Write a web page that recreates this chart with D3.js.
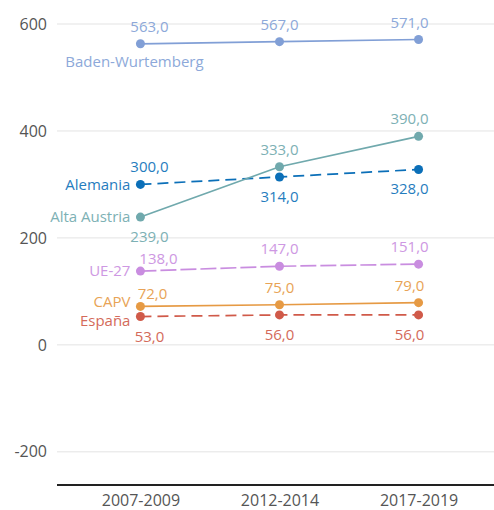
<!DOCTYPE html>
<html>
<head>
<meta charset="utf-8">
<script src="https://cdn.jsdelivr.net/npm/d3@7"></script>
<style>
  body { margin: 0; background: #fff; }
  svg { display: block; font-family: "Open Sans", sans-serif; }
</style>
</head>
<body>
<svg id="canvas" width="494" height="510"></svg>
<script>
// Data
let periods = ['2007-2009', '2012-2014', '2017-2019'];
let seriesNames = ['Baden-Wurtemberg', 'Alemania', 'Alta Austria', 'UE-27', 'CAPV', 'España'];
let badenValues = [563, 567, 571];
let alemaniaValues = [300, 314, 328];
let altaAustriaValues = [239, 333, 390];
let ue27Values = [138, 147, 151];
let capvValues = [72, 75, 79];
let espanaValues = [53, 56, 56];
let yTicks = [-200, 0, 200, 400, 600];

let allValues = [badenValues, alemaniaValues, altaAustriaValues, ue27Values, capvValues, espanaValues];

// Styles (colour, dash, where value labels go, where the name goes)
let styles = {
    'Baden-Wurtemberg': { color: '#819fd6', dash: null, pos: ['a', 'a', 'a'], name: 'below' },
    'Alemania': { color: '#0b6fb8', dash: '11,6', pos: ['a', 'b', 'b'], name: 'left', ndy: 0 },
    'Alta Austria': { color: '#70a9ad', dash: null, pos: ['b', 'a', 'a'], name: 'left', ndy: 0 },
    'UE-27': { color: '#c98de0', dash: '16,4', pos: ['a', 'a', 'a'], name: 'left', ndy: 0, first: [18, -7] },
    'CAPV': { color: '#e69a44', dash: null, pos: ['a', 'a', 'a'], name: 'left', ndy: -5, first: [12, -7] },
    'España': { color: '#d05a49', dash: '11,6', pos: ['b', 'b', 'b'], name: 'left', ndy: 4, first: [9, 25] }
};

let canvas = d3.select('#canvas');
let fmt = (v) => d3.format('.1f')(v).replace('.', ',');

let x = d3.scalePoint().domain(periods).range([57, 502]).padding(0.6);
let y = d3.scaleLinear().domain([-262, 600]).range([485, 24]);

// Grid
canvas.append('g')
    .selectAll('line')
    .data(yTicks)
    .enter()
    .append('line')
    .attr('x1', 57)
    .attr('x2', 494)
    .attr('y1', (d) => y(d))
    .attr('y2', (d) => y(d))
    .attr('stroke', '#e3e3e3')
    .attr('stroke-width', 1);

// Y axis labels
let yAxis = canvas.append('g')
    .attr('transform', 'translate(47,0)')
    .call(d3.axisLeft(y).tickValues(yTicks).tickSize(0).tickPadding(0).tickFormat((d) => String(d)));
yAxis.select('.domain').remove();
yAxis.selectAll('text')
    .attr('fill', '#555')
    .style('font-size', '16px')
    .style('font-family', '"Open Sans", sans-serif');

// X axis
let xAxis = canvas.append('g')
    .attr('transform', 'translate(0,' + y(-262) + ')')
    .call(d3.axisBottom(x).tickSize(0).tickPadding(10));
xAxis.select('.domain')
    .attr('d', 'M57,0H494')
    .attr('stroke', '#222')
    .attr('stroke-width', 2);
xAxis.selectAll('text')
    .attr('fill', '#555')
    .style('font-size', '16px')
    .style('font-family', '"Open Sans", sans-serif');

// Lines, points and labels
let line = d3.line()
    .x((d, i) => x(periods[i]))
    .y((d) => y(d));

seriesNames.forEach((name, k) => {
    let values = allValues[k];
    let st = styles[name];
    let g = canvas.append('g');

    g.append('path')
        .attr('d', line(values))
        .attr('fill', 'none')
        .attr('stroke', st.color)
        .attr('stroke-width', 1.7)
        .attr('stroke-dasharray', st.dash);

    g.selectAll('circle')
        .data(values)
        .enter()
        .append('circle')
        .attr('cx', (d, i) => x(periods[i]))
        .attr('cy', (d) => y(d))
        .attr('r', 4.5)
        .attr('fill', st.color);

    g.selectAll('text.value')
        .data(values)
        .enter()
        .append('text')
        .attr('class', 'value')
        .attr('x', (d, i) => {
            if (i === 0 && st.first) return x(periods[i]) + st.first[0];
            return x(periods[i]) + (i === 0 ? 9 : i === 2 ? -9 : 0);
        })
        .attr('y', (d, i) => {
            if (i === 0 && st.first) return y(d) + st.first[1];
            return y(d) + (st.pos[i] === 'a' ? -12 : 25);
        })
        .attr('text-anchor', 'middle')
        .attr('fill', st.color)
        .attr('opacity', 0.9)
        .style('font-size', '15px')
        .text((d) => fmt(d));

    let nameLabel = g.append('text')
        .attr('fill', st.color)
        .attr('opacity', 0.9)
        .style('font-size', '15px')
        .text(name);
    if (st.name === 'below') {
        nameLabel
            .attr('x', x(periods[0]) - 6)
            .attr('y', y(values[0]) + 23)
            .attr('text-anchor', 'middle');
    } else {
        nameLabel
            .attr('x', x(periods[0]) - 10)
            .attr('y', y(values[0]) + st.ndy)
            .attr('dy', '0.35em')
            .attr('text-anchor', 'end');
    }
});
</script>
</body>
</html>
